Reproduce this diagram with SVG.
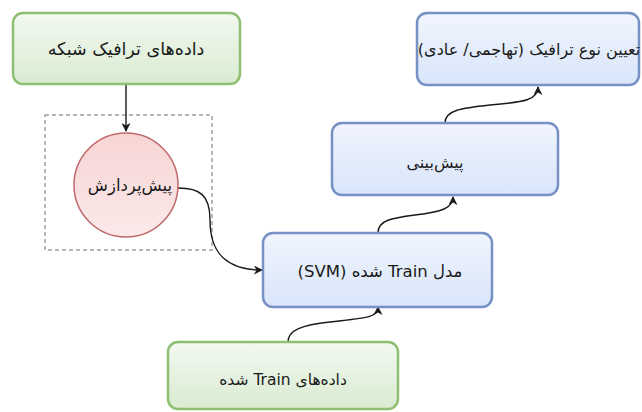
<svg xmlns="http://www.w3.org/2000/svg" width="642" height="412" viewBox="0 0 642 412">
  <defs>
    <linearGradient id="gGreen" x1="0" y1="0" x2="0" y2="1">
      <stop offset="0" stop-color="#f3f9f1"/>
      <stop offset="1" stop-color="#d9ebd1"/>
    </linearGradient>
    <linearGradient id="gBlue" x1="0" y1="0" x2="0" y2="1">
      <stop offset="0" stop-color="#f1f5fd"/>
      <stop offset="1" stop-color="#d8e5fa"/>
    </linearGradient>
    <linearGradient id="gRed" x1="0" y1="0" x2="0" y2="1">
      <stop offset="0" stop-color="#f7d4d4"/>
      <stop offset="1" stop-color="#fbe9e9"/>
    </linearGradient>
    <marker id="arrow" viewBox="0 0 10 10" refX="9" refY="5" markerWidth="9" markerHeight="9" markerUnits="userSpaceOnUse" orient="auto">
      <path d="M0,0 L10,5 L0,10 L3,5 Z" fill="#1a1a1a"/>
    </marker>
  </defs>
  <style>
    .green { fill: url(#gGreen); stroke: #8fbf72; stroke-width: 2.5; }
    .blue { fill: url(#gBlue); stroke: #7891c4; stroke-width: 2.5; }
    .red { fill: url(#gRed); stroke: #c0686a; stroke-width: 1.5; }
    .group { fill: none; stroke: #a0a0a0; stroke-width: 1.5; stroke-dasharray: 4 3; }
    .label { font-family: "DejaVu Sans", "Noto Sans", sans-serif; font-size: 16px; fill: #1a1a1a; text-anchor: middle; direction: rtl; }
    .edge { fill: none; stroke: #1a1a1a; stroke-width: 1.4; marker-end: url(#arrow); }
  </style>

  <!-- dashed container around the preprocessing step -->
  <rect class="group" x="45" y="115" width="167" height="135"/>

  <g id="edges">
    <path class="edge" d="M126,84 L126,131"/>
    <path class="edge" d="M178,188 C200,188 210,195 210,220 C210,255 228,270 262,270"/>
    <path class="edge" d="M378,233 C378,220 392,218 415,215 C442,212 453,208 453,197"/>
    <path class="edge" d="M445,123 C445,110 462,108 490,105 C525,102 538,100 538,87"/>
    <path class="edge" d="M288,342 C288,330 302,325 330,322 C365,318 378,318 378,307"/>
  </g>

  <g id="network-data">
    <rect class="green" x="13" y="13" width="227" height="71" rx="10"/>
    <text class="label" x="126" y="55" style="font-size:17.5px">داده‌های ترافیک شبکه</text>
  </g>

  <g id="preprocess">
    <circle class="red" cx="126" cy="185" r="52"/>
    <text class="label" x="130" y="191" style="font-size:16.5px">پیش‌پردازش</text>
  </g>

  <g id="svm-model">
    <rect class="blue" x="263" y="233" width="229" height="74" rx="10"/>
    <text class="label" x="380" y="277" style="font-size:16.5px">مدل Train شده (SVM)</text>
  </g>

  <g id="prediction">
    <rect class="blue" x="332" y="123" width="226" height="72" rx="10"/>
    <text class="label" x="435" y="168" style="font-size:16px">پیش‌بینی</text>
  </g>

  <g id="traffic-type">
    <rect class="blue" x="417" y="13" width="222" height="72" rx="10"/>
    <text class="label" x="529" y="55" style="font-size:16px">تعیین نوع ترافیک (تهاجمی/ عادی)</text>
  </g>

  <g id="train-data">
    <rect class="green" x="168" y="342" width="230" height="67" rx="10"/>
    <text class="label" x="283" y="385" style="font-size:15.5px">داده‌های Train شده</text>
  </g>
</svg>
